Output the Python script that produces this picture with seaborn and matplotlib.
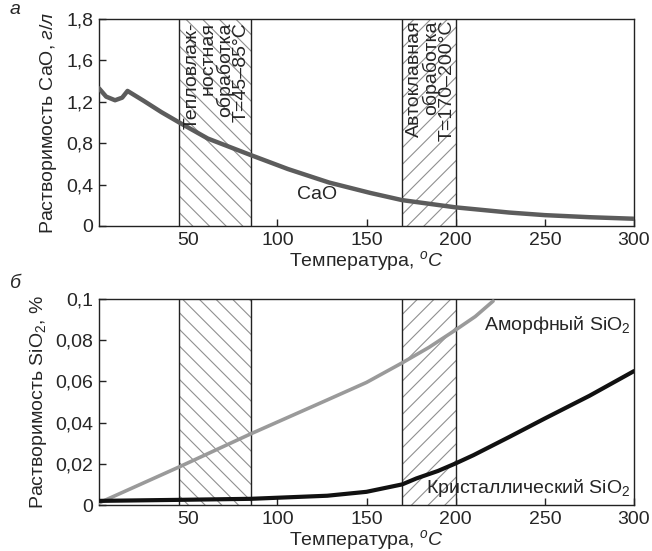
import matplotlib
matplotlib.use("Agg")
import matplotlib.pyplot as plt
import seaborn as sns
import pandas as pd

# --- data ---
cao_t = [0, 4, 9, 13, 16, 25, 35, 45, 61, 85, 106, 129, 152, 170, 200, 230, 250, 275, 300]
cao_v = [1.33, 1.25, 1.215, 1.24, 1.305, 1.21, 1.10, 1.0, 0.845, 0.686, 0.55,
         0.42, 0.32, 0.25, 0.18, 0.13, 0.105, 0.085, 0.07]

amorph_t = [0, 45, 85, 128, 150, 170, 185, 200, 211, 221]
amorph_v = [0.001, 0.0185, 0.0345, 0.051, 0.0595, 0.069, 0.0765, 0.085, 0.0915, 0.099]

cryst_t = [0, 45, 85, 128, 150, 170, 178, 190, 200, 210, 230, 250, 275, 300]
cryst_v = [0.002, 0.0025, 0.003, 0.0045, 0.0064, 0.010, 0.0129, 0.0165, 0.0202, 0.0242,
           0.033, 0.042, 0.053, 0.065]

x_ticks = [50, 100, 150, 200, 250, 300]
cao_yticks = [0, 0.4, 0.8, 1.2, 1.6, 2.0]
cao_ylabels = ["0", "0,4", "0,8", "1,2", "1,6", "1,8"]
si_yticks = [0, 0.02, 0.04, 0.06, 0.08, 0.1]
si_ylabels = ["0", "0,02", "0,04", "0,06", "0,08", "0,1"]

band1 = (45, 85)
band2 = (170, 200)
band1_text = "Тепловлаж-\nностная\nобработка\nТ=45–85°С"
band2_text = "Автоклавная\nобработка\nТ=170–200°С"

sns.set_style("ticks")
plt.rcParams["font.family"] = ["Liberation Sans", "DejaVu Sans"]
plt.rcParams["mathtext.fontset"] = "custom"
plt.rcParams["mathtext.rm"] = "Liberation Sans"
plt.rcParams["mathtext.it"] = "Liberation Sans:italic"
plt.rcParams["hatch.linewidth"] = 0.8
fs = 14

fig = plt.figure(figsize=(6.52, 5.51), dpi=100)
ax1 = fig.add_axes([99 / 652, 1 - 226 / 551, 535 / 652, 207 / 551])
ax2 = fig.add_axes([99 / 652, 1 - 505 / 551, 535 / 652, 206 / 551])

cao = pd.DataFrame({"t": cao_t, "v": cao_v})
amorph = pd.DataFrame({"t": amorph_t, "v": amorph_v})
cryst = pd.DataFrame({"t": cryst_t, "v": cryst_v})


def bands(ax):
    for (lo, hi), h in [(band1, "\\\\"), (band2, "//")]:
        ax.axvspan(lo, hi, facecolor="white", edgecolor="#909090", hatch=h, lw=0, zorder=1)
        ax.axvline(lo, color="#222", lw=1.0, zorder=2)
        ax.axvline(hi, color="#222", lw=1.0, zorder=2)


def style(ax, yticks, ylabels):
    ax.set_xlim(0, 300)
    ax.set_xticks(x_ticks)
    ax.set_yticks(yticks)
    ax.set_yticklabels(ylabels)
    ax.set_ylim(yticks[0], yticks[-1])
    ax.tick_params(direction="in", length=5, width=1, labelsize=fs, pad=4, color="#222")
    for s in ax.spines.values():
        s.set_linewidth(1.0)
        s.set_color("#222")
    ax.set_xlabel("Температура, $^{o}C$", fontsize=fs, labelpad=0)


# --- panel a ---
bands(ax1)
sns.lineplot(x="t", y="v", data=cao, ax=ax1, color="#5c5c5c", lw=3.2, zorder=3)
style(ax1, cao_yticks, cao_ylabels)
ax1.set_ylabel("Растворимость CaO, $\\it{г/л}$", fontsize=fs, labelpad=5)
ax1.text(122, 0.30, "CaO", ha="center", va="center", fontsize=fs)
ax1.text(66, 0.985, band1_text, transform=ax1.get_xaxis_transform(), rotation=90,
         ha="center", va="top", multialignment="right", fontsize=fs, linespacing=0.9, zorder=4)
ax1.text(186, 0.995, band2_text, transform=ax1.get_xaxis_transform(), rotation=90,
         ha="center", va="top", multialignment="right", fontsize=fs, linespacing=0.9, zorder=4)

# --- panel b ---
bands(ax2)
sns.lineplot(x="t", y="v", data=amorph, ax=ax2, color="#9a9a9a", lw=2.6, zorder=3)
sns.lineplot(x="t", y="v", data=cryst, ax=ax2, color="#111111", lw=3.0, zorder=3)
style(ax2, si_yticks, si_ylabels)
ax2.set_ylabel("Растворимость SiO$_2$, %", fontsize=fs, labelpad=5)
ax2.text(298, 0.0874, "Аморфный SiO$_2$", ha="right", va="center", fontsize=fs)
ax2.text(298, 0.0083, "Кристаллический SiO$_2$", ha="right", va="center", fontsize=fs)

fig.text(10 / 652, 1 - 10 / 551, "а", fontsize=fs, style="italic", va="center")
fig.text(10 / 652, 1 - 283 / 551, "б", fontsize=fs, style="italic", va="center")

fig.savefig("out.png", dpi=100, facecolor="white")
